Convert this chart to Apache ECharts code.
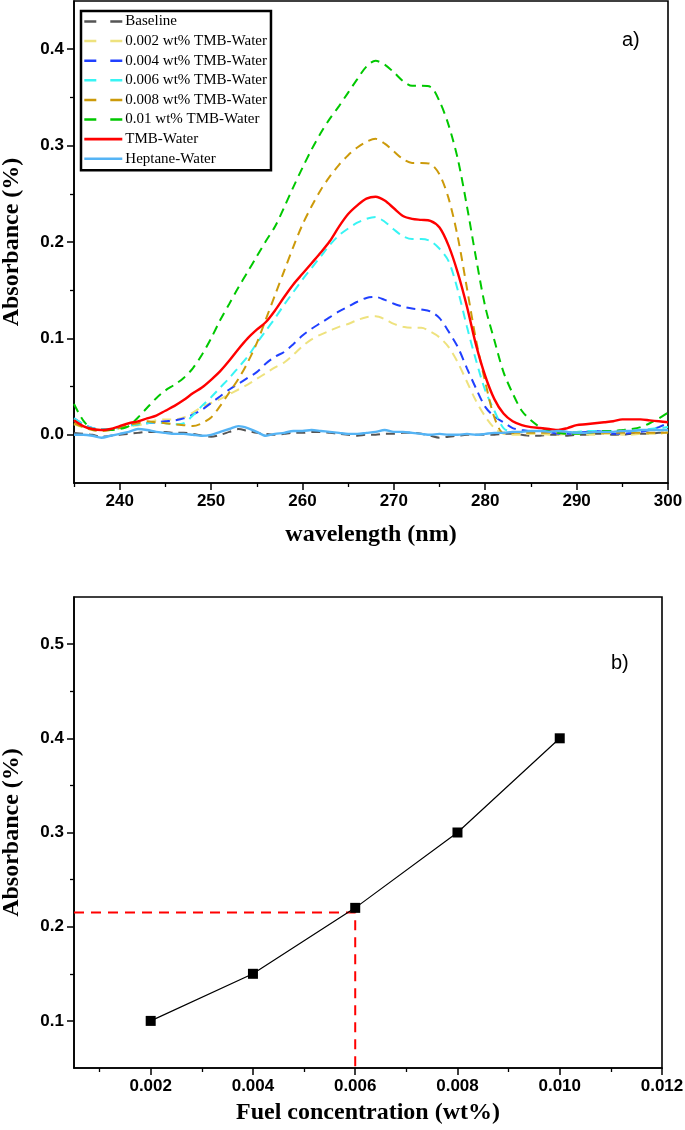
<!DOCTYPE html>
<html><head><meta charset="utf-8">
<script src="https://cdn.jsdelivr.net/npm/echarts@6/dist/echarts.min.js"></script>
<style>html,body{margin:0;padding:0;background:#fff}#c{width:685px;height:1130px}</style>
</head><body><div id="c"></div>
<script>
// ---------- Panel a) data ----------
const wavelengths = [235,236,237,238,239,240,241,242,243,244,245,246,247,248,249,250,251,252,253,254,255,256,257,258,259,260,261,262,263,264,265,266,267,268,269,270,271,272,273,274,275,276,277,278,279,280,281,282,283,284,285,286,287,288,289,290,291,292,293,294,295,296,297,298,299,300];
const baseline = [0.002,0.001,0.000,-0.002,-0.001,0.000,0.001,0.002,0.003,0.003,0.003,0.002,0.002,0.001,-0.001,-0.002,0.000,0.003,0.006,0.004,0.002,0.001,0.000,0.001,0.002,0.002,0.003,0.003,0.002,0.001,0.000,-0.001,0.000,0.000,0.001,0.001,0.002,0.002,0.001,-0.001,-0.003,-0.002,-0.001,0.000,0.000,0.000,0.000,0.001,0.001,0.000,-0.001,-0.001,0.000,0.000,-0.001,0.000,0.000,0.001,0.001,0.000,0.000,0.001,0.001,0.001,0.002,0.002];
const tmb002 = [0.011,0.008,0.006,0.005,0.005,0.007,0.009,0.010,0.012,0.015,0.016,0.016,0.018,0.023,0.029,0.033,0.037,0.042,0.047,0.052,0.058,0.064,0.070,0.075,0.083,0.092,0.099,0.104,0.108,0.112,0.115,0.119,0.122,0.123,0.120,0.115,0.112,0.111,0.111,0.107,0.101,0.091,0.075,0.055,0.035,0.019,0.007,0.001,0.000,0.000,0.001,0.001,0.000,0.000,0.001,0.001,0.000,0.000,0.001,0.001,0.000,0.000,0.001,0.001,0.001,0.003];
const tmb004 = [0.017,0.011,0.007,0.006,0.006,0.008,0.010,0.011,0.012,0.013,0.014,0.015,0.017,0.021,0.026,0.033,0.040,0.047,0.053,0.059,0.065,0.074,0.081,0.086,0.094,0.103,0.110,0.116,0.122,0.128,0.133,0.138,0.142,0.143,0.140,0.136,0.133,0.131,0.130,0.128,0.121,0.107,0.091,0.069,0.048,0.029,0.019,0.013,0.007,0.005,0.004,0.004,0.003,0.001,0.001,0.002,0.003,0.004,0.003,0.001,0.001,0.002,0.003,0.005,0.008,0.012];
const tmb006 = [0.017,0.011,0.007,0.006,0.006,0.007,0.009,0.011,0.012,0.013,0.012,0.011,0.012,0.020,0.030,0.039,0.049,0.059,0.070,0.081,0.095,0.108,0.121,0.135,0.148,0.161,0.173,0.185,0.197,0.207,0.214,0.220,0.224,0.226,0.221,0.213,0.206,0.203,0.203,0.201,0.193,0.180,0.150,0.112,0.077,0.046,0.025,0.007,0.003,0.003,0.004,0.004,0.004,0.003,0.003,0.003,0.004,0.004,0.004,0.004,0.004,0.004,0.005,0.006,0.007,0.008];
const tmb008 = [0.012,0.008,0.005,0.004,0.005,0.007,0.010,0.012,0.014,0.013,0.012,0.011,0.010,0.009,0.012,0.018,0.030,0.044,0.058,0.075,0.095,0.120,0.145,0.170,0.195,0.218,0.237,0.254,0.268,0.280,0.290,0.298,0.304,0.307,0.302,0.294,0.286,0.282,0.282,0.281,0.270,0.245,0.205,0.152,0.098,0.055,0.018,0.002,0.002,0.002,0.002,0.002,0.002,0.002,0.002,0.002,0.002,0.002,0.002,0.002,0.002,0.002,0.002,0.002,0.002,0.002];
const tmb010 = [0.032,0.015,0.006,0.005,0.005,0.006,0.009,0.018,0.028,0.038,0.046,0.052,0.059,0.069,0.083,0.100,0.119,0.136,0.153,0.169,0.185,0.201,0.216,0.236,0.257,0.277,0.296,0.313,0.328,0.341,0.355,0.369,0.382,0.388,0.384,0.376,0.367,0.362,0.362,0.361,0.346,0.321,0.286,0.237,0.183,0.133,0.098,0.065,0.043,0.025,0.015,0.008,0.004,0.002,0.001,0.001,0.002,0.003,0.004,0.004,0.005,0.006,0.008,0.012,0.017,0.023];
const tmbWater = [0.015,0.009,0.006,0.005,0.006,0.009,0.012,0.014,0.017,0.020,0.025,0.030,0.036,0.043,0.049,0.057,0.066,0.077,0.089,0.100,0.109,0.117,0.129,0.143,0.156,0.167,0.178,0.189,0.201,0.216,0.229,0.238,0.245,0.247,0.243,0.235,0.227,0.224,0.223,0.222,0.215,0.196,0.168,0.133,0.093,0.061,0.037,0.022,0.014,0.010,0.008,0.007,0.006,0.005,0.007,0.010,0.011,0.012,0.013,0.014,0.016,0.016,0.016,0.015,0.014,0.013];
const heptaneWater = [0.000,0.000,-0.001,-0.003,-0.001,0.001,0.003,0.006,0.005,0.003,0.002,0.001,0.001,0.000,-0.001,0.000,0.003,0.006,0.009,0.007,0.003,-0.001,0.001,0.002,0.004,0.004,0.005,0.004,0.003,0.002,0.001,0.001,0.002,0.003,0.005,0.003,0.003,0.002,0.001,0.000,0.001,0.000,0.000,0.001,0.000,0.001,0.002,0.002,0.003,0.003,0.004,0.004,0.003,0.004,0.003,0.002,0.002,0.003,0.003,0.003,0.004,0.004,0.005,0.005,0.005,0.005];
const seriesNames = ['Baseline','0.002 wt% TMB-Water','0.004 wt% TMB-Water','0.006 wt% TMB-Water','0.008 wt% TMB-Water','0.01 wt% TMB-Water','TMB-Water','Heptane-Water'];
const xTicksA = [240,250,260,270,280,290,300];
const xMinorA = [235,245,255,265,275,285,295];
const yTicksA = [0.0,0.1,0.2,0.3,0.4];
const yMinorA = [0.05,0.15,0.25,0.35];

// ---------- Panel b) data ----------
const concentration = [0.002,0.004,0.006,0.008,0.010];
const absorbanceB = [0.10,0.15,0.22,0.30,0.40];
const guideX = [0.0005,0.006,0.006];
const guideY = [0.215,0.215,0.05];
const xTicksB = [0.002,0.004,0.006,0.008,0.010,0.012];
const xMinorB = [0.001,0.003,0.005,0.007,0.009,0.011];
const yTicksB = [0.1,0.2,0.3,0.4,0.5];
const yMinorB = [0.15,0.25,0.35,0.45];

// ---------- styles ----------
const tickFont = {fontFamily:'"Liberation Sans", Arial, sans-serif', fontWeight:'bold', fontSize:17, color:'#000'};
const titleFont = {fontFamily:'"Liberation Serif", "Times New Roman", serif', fontWeight:'bold', fontSize:24, color:'#000'};
const axLine = {show:true, onZero:false, lineStyle:{color:'#000', width:1.6}};

function mainAxis(grid, min, max, ticks, fmt, extra){
  return Object.assign({
    gridIndex:grid, type:'value', min:min, max:max,
    axisLine:axLine,
    axisTick:{show:true, customValues:ticks, length:7, lineStyle:{color:'#000', width:1.5}},
    axisLabel:Object.assign({customValues:ticks, formatter:fmt, margin:10}, tickFont),
    splitLine:{show:false}
  }, extra);
}
function minorAxis(grid, min, max, ticks, pos){
  return {gridIndex:grid, type:'value', min:min, max:max, position:pos,
    axisLine:{show:false, onZero:false},
    axisTick:{show:true, customValues:ticks, length:4, lineStyle:{color:'#000', width:1.3}},
    axisLabel:{show:false}, splitLine:{show:false}};
}

const colors = ['#555555','#EEE27E','#2040FF','#38F4F4','#CC9A0A','#00C800','#FF0000','#55B4F5'];
const arrays = [baseline,tmb002,tmb004,tmb006,tmb008,tmb010,tmbWater,heptaneWater];
const dashed = [true,true,true,true,true,true,false,false];

const seriesA = arrays.map((arr,i)=>({
  name:seriesNames[i], type:'line', xAxisIndex:0, yAxisIndex:0,
  data:wavelengths.map((w,j)=>[w,arr[j]]),
  symbol:'none', showSymbol:false, smooth:0.3,
  lineStyle:{color:colors[i], width:dashed[i]?2:2.4, type:dashed[i]?[9,6]:'solid'},
  itemStyle:{color:colors[i]}
}));

const option = {
  animation:false,
  backgroundColor:'#fff',
  grid:[
    {left:74, top:1, width:594, height:482, show:true, borderColor:'#000', borderWidth:1.6, backgroundColor:'transparent', containLabel:false, outerBoundsMode:'none'},
    {left:74, top:597, width:588, height:471, show:true, borderColor:'#000', borderWidth:1.6, backgroundColor:'transparent', containLabel:false, outerBoundsMode:'none'}
  ],
  xAxis:[
    mainAxis(0,235,300,xTicksA,v=>String(v),{position:'bottom', name:'wavelength (nm)', nameLocation:'middle', nameGap:40, nameTextStyle:titleFont}),
    minorAxis(0,235,300,xMinorA,'bottom'),
    mainAxis(1,0.0005,0.012,xTicksB,v=>v.toFixed(3),{position:'bottom', name:'Fuel concentration (wt%)', nameLocation:'middle', nameGap:33, nameTextStyle:titleFont}),
    minorAxis(1,0.0005,0.012,xMinorB,'bottom')
  ],
  yAxis:[
    mainAxis(0,-0.05,0.45,yTicksA,v=>v.toFixed(1),{position:'left', name:'Absorbance (%)', nameLocation:'middle', nameGap:50, nameTextStyle:titleFont}),
    minorAxis(0,-0.05,0.45,yMinorA,'left'),
    mainAxis(1,0.05,0.55,yTicksB,v=>v.toFixed(1),{position:'left', name:'Absorbance (%)', nameLocation:'middle', nameGap:50, nameTextStyle:titleFont}),
    minorAxis(1,0.05,0.55,yMinorB,'left')
  ],
  legend:{
    left:81, top:11, orient:'vertical', itemWidth:38, itemHeight:14, itemGap:4.6,
    padding:[3,4,4,2], borderColor:'#000', borderWidth:2.5, backgroundColor:'#fff',
    itemStyle:{opacity:0, color:'transparent', borderWidth:0},
    textStyle:{fontFamily:'"Liberation Serif", "Times New Roman", serif', fontSize:15, color:'#000', padding:[0,0,0,-2]},
    data:seriesNames.map((n,i)=>({name:n, lineStyle: dashed[i] ? {type:[12,14], width:2.5} : {width:2.6}}))
  },
  graphic:[
    {type:'text', x:622, y:40, style:{text:'a)', font:'20px "Liberation Sans", Arial, sans-serif', fill:'#000', textVerticalAlign:'middle'}},
    {type:'text', x:611, y:663, style:{text:'b)', font:'20px "Liberation Sans", Arial, sans-serif', fill:'#000', textVerticalAlign:'middle'}}
  ],
  series: seriesA.concat([
    {type:'line', xAxisIndex:2, yAxisIndex:2, z:1,
     data:guideX.map((x,i)=>[x,guideY[i]]), symbol:'none', showSymbol:false,
     lineStyle:{color:'#FF0000', width:2, type:[10,7]}},
    {type:'line', xAxisIndex:2, yAxisIndex:2, z:3,
     data:concentration.map((c,i)=>[c,absorbanceB[i]]), symbol:'rect', symbolSize:10,
     itemStyle:{color:'#000'}, lineStyle:{color:'#000', width:1.2}}
  ])
};
const chart = echarts.init(document.getElementById('c'), null, {renderer:'canvas'});
chart.setOption(option);
</script>
</body></html>
